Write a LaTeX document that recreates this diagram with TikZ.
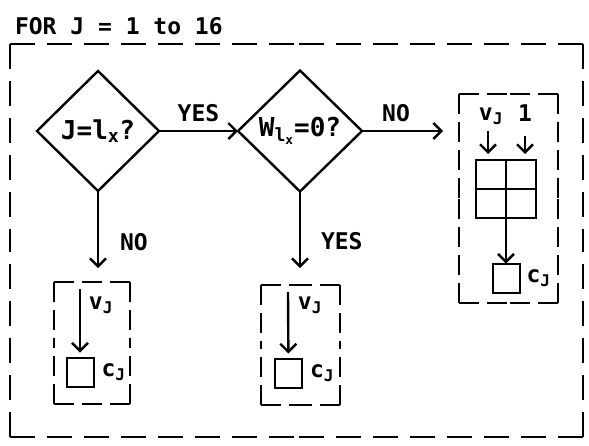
\documentclass[tikz,border=0pt]{standalone}
\usepackage{fontspec}
\setmonofont{DejaVu Sans Mono}
\usetikzlibrary{arrows.meta}
\usetikzlibrary{shapes.geometric}
\usetikzlibrary{positioning}
% dashed frame drawn from every corner to the middle of its sides, so that every corner is a closed L
\newcommand{\dashframe}[2]{%
  \draw[#1] (#2.north west) -- (#2.north) (#2.north east) -- (#2.north);
  \draw[#1] (#2.north east) -- (#2.east) (#2.south east) -- (#2.east);
  \draw[#1] (#2.south east) -- (#2.south) (#2.south west) -- (#2.south);
  \draw[#1] (#2.south west) -- (#2.west) (#2.north west) -- (#2.west);}

\begin{document}
\begin{tikzpicture}[x=1pt, y=-1pt,
        >={Straight Barb[length=8pt, width=16pt]},
        every node/.style={font=\ttfamily\bfseries\fontsize{23}{26}\selectfont, inner sep=0pt, outer sep=0pt},
        decision/.style={diamond, draw, line width=2.4pt, aspect=1,
                         font=\ttfamily\bfseries\fontsize{26}{30}\selectfont},
        cell/.style={rectangle, draw, line width=2pt, minimum width=27pt, minimum height=29pt},
        region/.style={rectangle},
        outer dash/.style={line width=2.6pt, dash pattern=on 25pt off 12pt},
        inner dash/.style={line width=2.4pt, dash pattern=on 20pt off 8pt},
        flow/.style={->, line width=2.4pt},
    ]
        \useasboundingbox (0,0) rectangle (589,445);

        % Loop frame and its title
        \node[region, minimum width=573pt, minimum height=393pt] (loop) at (296.5,240.5) {};
        \dashframe{outer dash}{loop}
        \node[anchor=base west] (title) at (15,34) {FOR J = 1 to 16};

        % Two tests
        \node[decision, minimum width=122pt, minimum height=120pt] (ident) at (98,131) {J=l\textsubscript{x}?};
        \node[decision, minimum width=124pt, minimum height=121pt] (weight) at (300,131) {W\textsubscript{l\textsubscript{x}}=0?};
        \draw[flow] (ident.east) -- (weight.west) node[midway, above=9pt] (yeslabel) {YES};

        % Right branch: table update
        \node[region, minimum width=99pt, minimum height=209pt] (rbox) at (508.5,198.5) {};
        \dashframe{inner dash}{rbox}
        \coordinate (toright) at (443,131);
        \draw[flow] (weight.east) -- (toright) node[pos=0.42, above=9pt] (nolabel) {NO};
        \node (vin) at (491,116) {v\textsubscript{J}};
        \node (one) at (525,113) {1};
        \node[draw, line width=2pt, minimum width=60pt, minimum height=58pt] (grid) at (506,189) {};
        \draw[line width=2pt] (grid.north) -- (grid.south) (grid.west) -- (grid.east);
        \draw[flow, shorten <=7pt, shorten >=6pt] ([xshift=-3pt]vin.south) -- ([xshift=-3pt]vin.south |- grid.north);
        \draw[flow, shorten <=15pt, shorten >=6pt] (one.south) -- (one.south |- grid.north);
        \node[cell] (sq3) at (506,278) {};
        \draw[flow] (grid.south) -- (sq3.north);
        \node[right=7pt of sq3] (c3) {c\textsubscript{J}};

        % Lower left branch
        \coordinate (noend) at (98,268);
        \draw[flow] (ident.south) -- (noend) node[pos=0.67, right=22pt] (nodown) {NO};
        \node[region, minimum width=76pt, minimum height=122pt] (nobox) at (92,343) {};
        \dashframe{inner dash}{nobox}
        \coordinate (nofeed) at (80,289);
        \node[cell] (sq1) at (80,372) {};
        \draw[flow, shorten >=5pt] (nofeed) -- (sq1);
        \node (v1) at (101,305) {v\textsubscript{J}};
        \node[right=8pt of sq1] (c1) {c\textsubscript{J}};

        % Lower middle branch
        \coordinate (yesend) at (300,268);
        \draw[flow] (weight.south) -- (yesend) node[pos=0.65, right=21pt] (yesdown) {YES};
        \node[region, minimum width=79pt, minimum height=120pt] (yesbox) at (300.5,345) {};
        \dashframe{inner dash}{yesbox}
        \coordinate (yesfeed) at (288,292);
        \node[cell] (sq2) at (288.5,373) {};
        \draw[flow, shorten >=5pt] (yesfeed) -- (sq2);
        \node (v2) at (310,305) {v\textsubscript{J}};
        \node[right=8pt of sq2] (c2) {c\textsubscript{J}};

\end{tikzpicture}
\end{document}
